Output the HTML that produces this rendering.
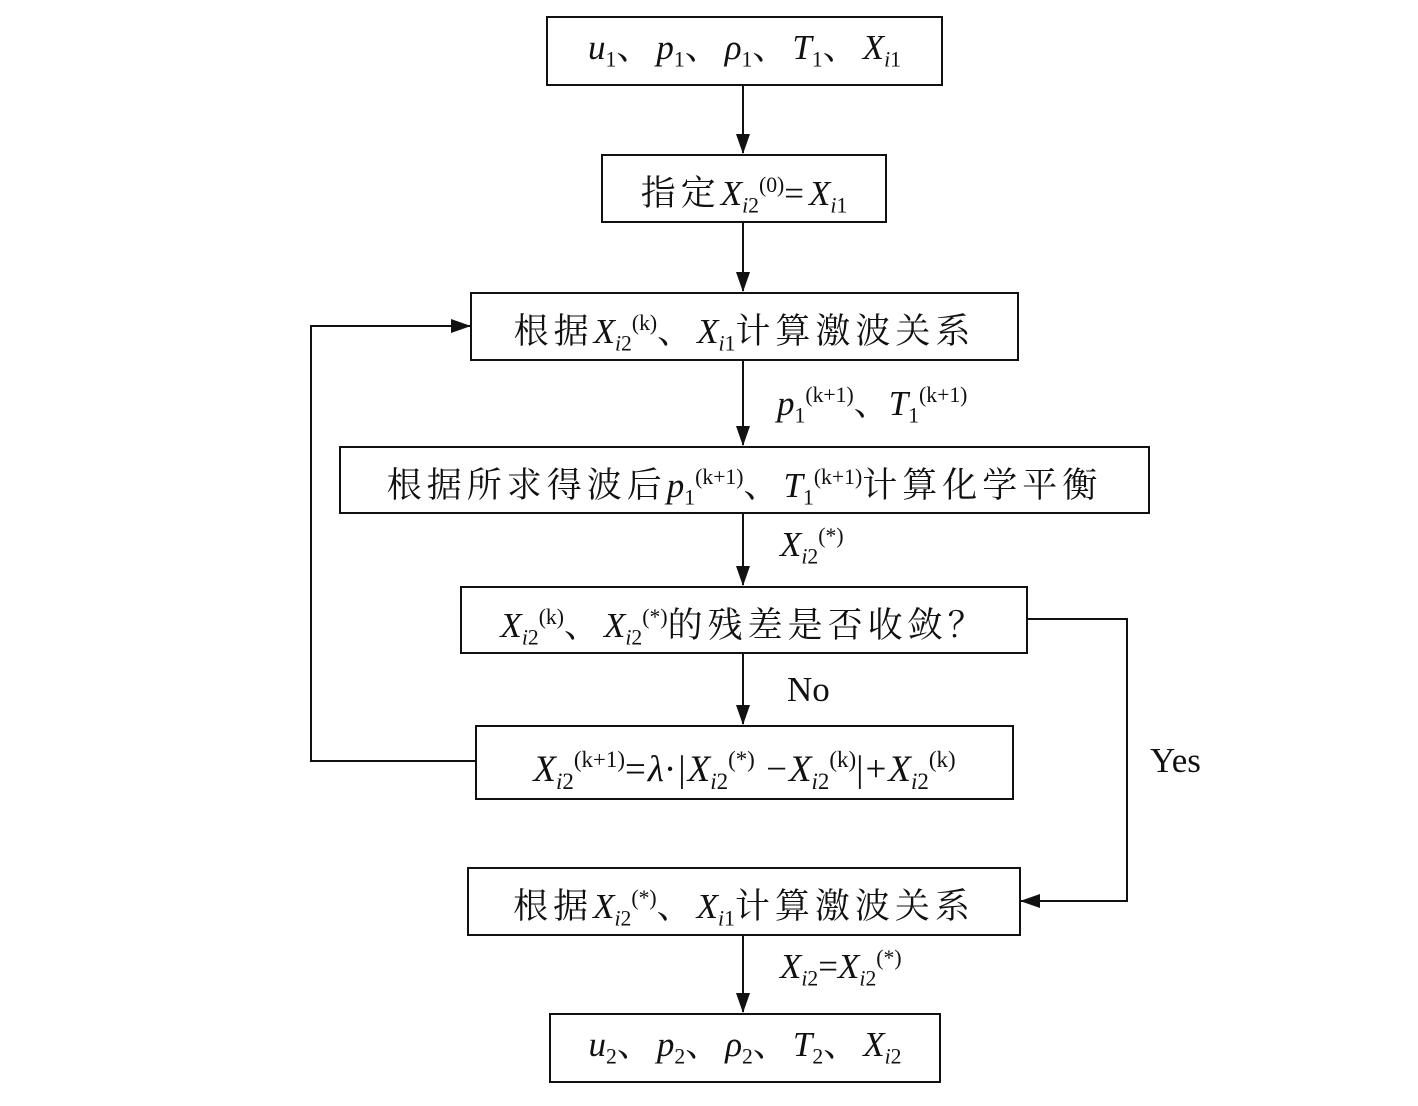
<!DOCTYPE html>
<html><head><meta charset="utf-8"><style>
body{margin:0;width:1418px;height:1106px;background:#fff;position:relative;overflow:hidden;font-family:"Liberation Serif","Noto Serif CJK SC",serif;color:#111}
.b{position:absolute;border:2px solid #111;box-sizing:border-box;text-align:center;font-size:35px;white-space:nowrap;letter-spacing:5px}
.l{position:absolute;font-size:35px;white-space:nowrap}
i{font-style:italic;letter-spacing:0}
sub{font-size:0.62em;vertical-align:-0.35em;letter-spacing:0}
sup{font-size:0.62em;vertical-align:0.6em;letter-spacing:0}
svg{position:absolute;left:0;top:0}
</style></head><body>
<svg width="1418" height="1106">
<defs><marker id="a" markerWidth="20" markerHeight="14" refX="19" refY="7" orient="auto" markerUnits="userSpaceOnUse"><path d="M0,0L20,7L0,14z" fill="#111"/></marker></defs>
<g stroke="#111" stroke-width="2" fill="none">
<line x1="743" y1="85" x2="743" y2="153" marker-end="url(#a)"/>
<line x1="743" y1="222" x2="743" y2="291" marker-end="url(#a)"/>
<line x1="743" y1="360" x2="743" y2="445" marker-end="url(#a)"/>
<line x1="743" y1="513" x2="743" y2="585" marker-end="url(#a)"/>
<line x1="743" y1="653" x2="743" y2="724" marker-end="url(#a)"/>
<line x1="743" y1="935" x2="743" y2="1012" marker-end="url(#a)"/>
<polyline points="475,761 311,761 311,326 470,326" marker-end="url(#a)"/>
<polyline points="1027,619 1127,619 1127,901 1021,901" marker-end="url(#a)"/>
</g></svg>
<div class="b" style="left:546px;top:16px;width:397px;height:70px;line-height:60px"><i>u</i><sub>1</sub>、<i>p</i><sub>1</sub>、<i>ρ</i><sub>1</sub>、<i>T</i><sub>1</sub>、<i>X</i><sub><i>i</i>1</sub></div>
<div class="b" style="left:601px;top:154px;width:286px;height:69px;line-height:59px">指定<i>X</i><sub><i>i</i>2</sub><sup>(0)</sup>=<i>X</i><sub><i>i</i>1</sub></div>
<div class="b" style="left:470px;top:292px;width:549px;height:69px;line-height:59px">根据<i>X</i><sub><i>i</i>2</sub><sup>(k)</sup>、<i>X</i><sub><i>i</i>1</sub>计算激波关系</div>
<div class="b" style="left:339px;top:446px;width:811px;height:68px;line-height:58px">根据所求得波后<i>p</i><sub>1</sub><sup>(k+1)</sup>、<i>T</i><sub>1</sub><sup>(k+1)</sup>计算化学平衡</div>
<div class="b" style="left:460px;top:586px;width:568px;height:68px;line-height:58px"><i>X</i><sub><i>i</i>2</sub><sup>(k)</sup>、<i>X</i><sub><i>i</i>2</sub><sup>(*)</sup>的残差是否收敛？</div>
<div class="b" style="left:475px;top:725px;width:539px;height:75px;line-height:65px;letter-spacing:2px;font-size:37px"><i>X</i><sub><i>i</i>2</sub><sup>(k+1)</sup>=<i>λ</i>·|<i>X</i><sub><i>i</i>2</sub><sup>(*)</sup> −<i>X</i><sub><i>i</i>2</sub><sup>(k)</sup>|+<i>X</i><sub><i>i</i>2</sub><sup>(k)</sup></div>
<div class="b" style="left:467px;top:867px;width:554px;height:69px;line-height:59px">根据<i>X</i><sub><i>i</i>2</sub><sup>(*)</sup>、<i>X</i><sub><i>i</i>1</sub>计算激波关系</div>
<div class="b" style="left:549px;top:1013px;width:392px;height:70px;line-height:60px"><i>u</i><sub>2</sub>、<i>p</i><sub>2</sub>、<i>ρ</i><sub>2</sub>、<i>T</i><sub>2</sub>、<i>X</i><sub><i>i</i>2</sub></div>
<div class="l" style="left:777px;top:376px"><i>p</i><sub>1</sub><sup>(k+1)</sup>、<i>T</i><sub>1</sub><sup>(k+1)</sup></div>
<div class="l" style="left:780px;top:524px"><i>X</i><sub><i>i</i>2</sub><sup>(*)</sup></div>
<div class="l" style="left:787px;top:670px">No</div>
<div class="l" style="left:1150px;top:741px">Yes</div>
<div class="l" style="left:780px;top:946px"><i>X</i><sub><i>i</i>2</sub>=<i>X</i><sub><i>i</i>2</sub><sup>(*)</sup></div>
</body></html>
